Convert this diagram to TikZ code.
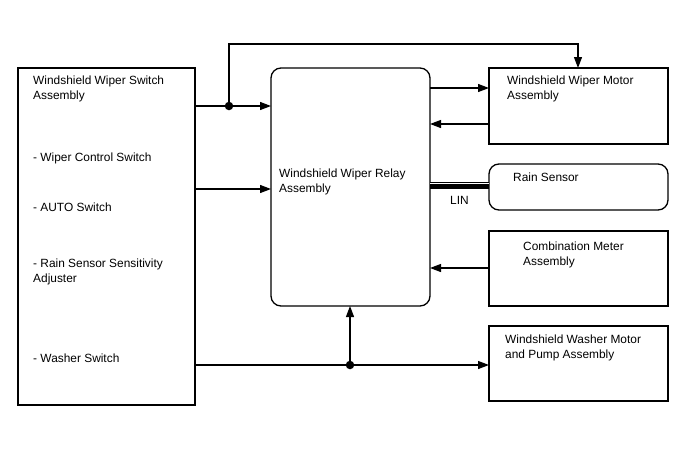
\documentclass[tikz,border=0pt]{standalone}
\usepackage{fontspec}
\setmainfont{Liberation Sans}
\usetikzlibrary{arrows.meta}
\begin{document}
\begin{tikzpicture}[x=1pt,y=-1pt,
  box/.style={draw,line width=1.3pt},
  rbox/.style={draw,line width=1.3pt,rounded corners=10pt},
  txt/.style={anchor=west,inner sep=0pt,font=\fontsize{11.9}{15}\selectfont,align=left},
  conn/.style={line width=1.2pt},
  arr/.style={line width=1.2pt,-{Triangle[length=11pt,width=8pt]}},
  dot/.style={circle,fill=black,inner sep=0pt,minimum size=8.5pt}]
\useasboundingbox (0,0) rectangle (688,463);
% boxes
\path[box] (18,68) rectangle (195,405);
\path[rbox] (271,68) rectangle (430,306);
\path[box] (489,68) rectangle (668,144);
\path[rbox] (489,164) rectangle (668,210);
\path[box] (489,231) rectangle (668,306);
\path[box] (489,326) rectangle (668,401);
% texts
\node[txt] (t1) at (33,88.5) {Windshield Wiper Switch\\Assembly};
\node[txt] (t2) at (33,158) {- Wiper Control Switch};
\node[txt] (t3) at (33,207) {- AUTO Switch};
\node[txt] (t4) at (33,272) {- Rain Sensor Sensitivity\\Adjuster};
\node[txt] (t5) at (33,358) {- Washer Switch};
\node[txt] (t6) at (279,181.5) {Windshield Wiper Relay\\Assembly};
\node[txt] (t7) at (507,88.5) {Windshield Wiper Motor\\Assembly};
\node[txt] (t8) at (513,177) {Rain Sensor};
\node[txt] (t9) at (523,254.5) {Combination Meter\\Assembly};
\node[txt] (t10) at (505,347.5) {Windshield Washer Motor\\and Pump Assembly};
\node[txt] (lin) at (450,200) {LIN};
% coordinates
\coordinate (s1) at (195,106);
\coordinate (d1c) at (229,106);
\coordinate (r1) at (271,106);
\coordinate (c1) at (229,44);
\coordinate (c2) at (578,44);
\coordinate (m1) at (578,68);
\coordinate (rm1) at (430,88);
\coordinate (mm1) at (489,88);
\coordinate (mm2) at (489,124);
\coordinate (rm2) at (430,124);
\coordinate (s2) at (195,189);
\coordinate (r2) at (271,189);
\coordinate (l1) at (430,185);
\coordinate (l2) at (489,185);
\coordinate (cm) at (489,268);
\coordinate (rc) at (430,268);
\coordinate (s3) at (195,365);
\coordinate (w1) at (489,365);
\coordinate (d2c) at (350,365);
\coordinate (rb) at (350,306);
% connectors
\draw[conn] (s1) -- (d1c);
\draw[arr] (d1c) -- (r1);
\draw[arr] (d1c) -- (c1) -- (c2) -- (m1);
\node[dot] (d1) at (d1c) {};
\draw[arr] (rm1) -- (mm1);
\draw[arr] (mm2) -- (rm2);
\draw[arr] (s2) -- (r2);
\draw[line width=7pt] (l1) -- (l2);
\draw[white,line width=1pt] ([yshift=1.8pt]l1) -- ([yshift=1.8pt]l2);
\draw[arr] (cm) -- (rc);
\draw[arr] (s3) -- (w1);
\draw[arr] (d2c) -- (rb);
\node[dot] (d2) at (d2c) {};
\end{tikzpicture}
\end{document}
